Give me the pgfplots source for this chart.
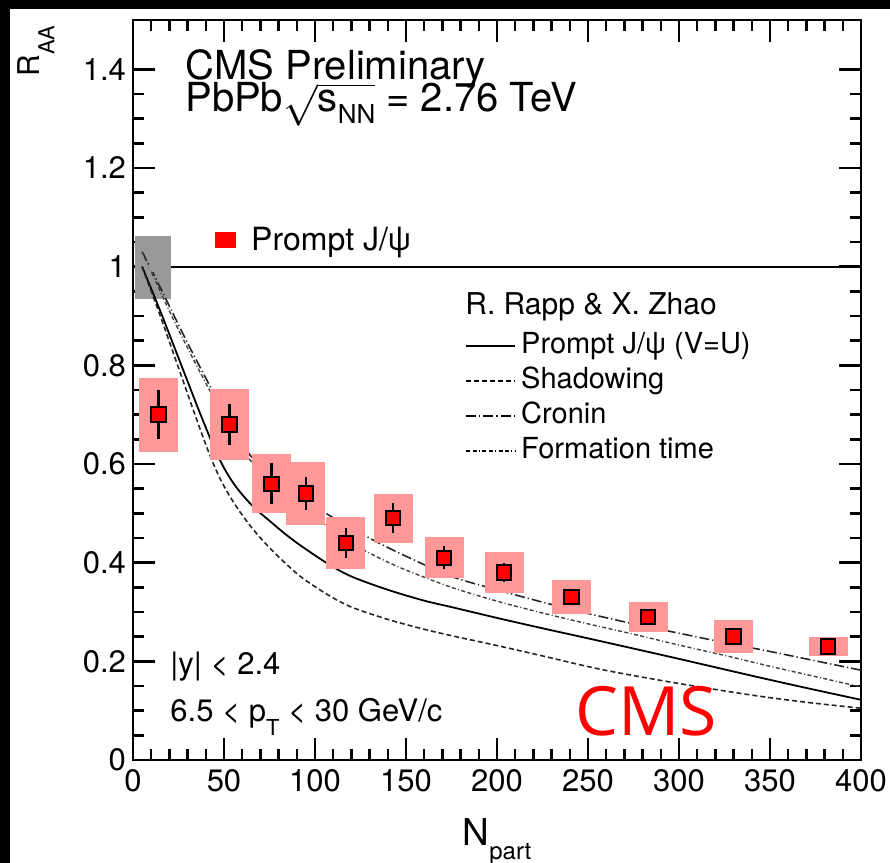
\documentclass[border=0pt]{standalone}
\usepackage{pgfplots}
\pgfplotsset{compat=1.18}
\usepackage{amsmath}
\usepackage{fontspec}
\setmainfont{TeX Gyre Heros}
\newfontfamily\cmsfont{Open Sans}
\definecolor{systred}{RGB}{255,153,153}
\definecolor{globgray}{RGB}{153,153,153}
\definecolor{mred}{RGB}{255,0,0}

\pgfplotstableread{
x    y     stat   syst
14   0.70  0.050  0.075
53   0.68  0.042  0.072
76   0.56  0.042  0.060
95   0.54  0.034  0.064
117  0.44  0.030  0.052
143  0.49  0.030  0.050
171  0.41  0.023  0.042
204  0.38  0.020  0.042
241  0.33  0.015  0.034
283  0.29  0.012  0.031
330  0.25  0.012  0.033
382  0.23  0.010  0.020
}\datatable

\begin{document}
\begin{tikzpicture}
\useasboundingbox (-66.5pt,-51.5pt) rectangle (378.5pt,380pt);
\fill[black] (-66.5pt,-51.5pt) rectangle (378.5pt,380pt);
\fill[white] (-61.5pt,-51.5pt) rectangle (378.5pt,375.5pt);
\begin{axis}[
  at={(0pt,0pt)}, anchor=south west,
  scale only axis, width=364pt, height=370pt,
  xmin=0, xmax=400, ymin=0, ymax=1.5,
  xtick={0,50,100,150,200,250,300,350,400},
  xticklabels={0,50,100,150,200,250,300,350,400},
  ytick={0,0.2,0.4,0.6,0.8,1,1.2,1.4},
  yticklabels={0,0.2,0.4,0.6,0.8,1,1.2,1.4},
  minor x tick num=4, minor y tick num=3,
  major tick length=11pt, minor tick length=5.5pt,
  tick style={black, line width=1.2pt},
  axis line style={line width=1.2pt},
  tick label style={font=\fontsize{15.5}{18}\selectfont},
  xticklabel style={yshift=-1pt},
  /pgf/number format/assume math mode=true,
  legend style={at={(rel axis cs:0.1126,0.7027)}, anchor=west, draw=none, fill=none,
    font=\fontsize{16}{18}\selectfont, inner sep=0pt, nodes={inner sep=0pt}, column sep=7.5pt},
]
% unity line
\addplot[black, line width=1pt, forget plot] coordinates {(0,1) (400,1)};
% global uncertainty box
\addplot[globgray, only marks, mark=none, forget plot,
  error bars/.cd, y dir=both, y explicit, error mark=none,
  error bar style={line width=18pt, solid}]
  coordinates {(11,0.998) +- (0,0.064)};
% theory curves
% Prompt J/psi (V=U)
\addplot[black, line width=0.9pt, smooth, forget plot] coordinates {
(5,1.0)(15,0.91)(25,0.815)(35,0.72)(40,0.674)(45,0.63)(50,0.592)(55,0.562)(60,0.538)(67,0.51)(75,0.485)(83,0.46)(92,0.435)(107,0.398)(120,0.372)(140,0.345)(160,0.323)(175,0.31)(200,0.288)(225,0.267)(258,0.24)(300,0.205)(341,0.17)(370,0.146)(400,0.122)};
% Shadowing
\addplot[black!85, line width=0.8pt, smooth, dash pattern=on 2.5pt off 1.5pt, forget plot] coordinates {
(5,1.0)(15,0.9)(25,0.795)(35,0.69)(42,0.62)(47,0.577)(52,0.542)(58,0.507)(65,0.472)(72,0.442)(80,0.412)(92,0.372)(107,0.335)(120,0.31)(140,0.285)(160,0.265)(175,0.252)(200,0.232)(225,0.211)(258,0.183)(300,0.155)(341,0.131)(370,0.117)(400,0.105)};
% Cronin
\addplot[black!85, line width=0.8pt, smooth, dash pattern=on 5pt off 1.5pt on 0.6pt off 1.5pt, forget plot] coordinates {
(5,1.03)(10,0.995)(20,0.92)(30,0.845)(42,0.76)(50,0.705)(58,0.652)(65,0.615)(75,0.58)(85,0.552)(95,0.527)(106,0.50)(120,0.47)(135,0.44)(150,0.413)(175,0.372)(200,0.345)(225,0.32)(250,0.297)(275,0.276)(300,0.257)(325,0.238)(350,0.22)(375,0.201)(400,0.182)};
% Formation time
\addplot[black!75, line width=0.7pt, smooth, dash pattern=on 2pt off 1.2pt on 2pt off 1.2pt on 0.5pt off 1.2pt, forget plot] coordinates {
(5,1.03)(10,0.99)(20,0.91)(30,0.835)(42,0.75)(50,0.695)(58,0.643)(65,0.605)(75,0.567)(85,0.535)(95,0.505)(106,0.476)(120,0.44)(135,0.41)(150,0.385)(175,0.35)(200,0.322)(225,0.298)(250,0.276)(275,0.255)(300,0.233)(325,0.212)(350,0.19)(375,0.169)(400,0.148)};
% systematic boxes
\addplot[systred, only marks, mark=none, forget plot,
  error bars/.cd, y dir=both, y explicit, error mark=none,
  error bar style={line width=19.5pt, solid}]
  table[x=x, y=y, y error=syst] {\datatable};
% statistical errors
\addplot[black, only marks, mark=none, forget plot,
  error bars/.cd, y dir=both, y explicit, error mark=none,
  error bar style={line width=1.2pt, solid}]
  table[x=x, y=y, y error=stat] {\datatable};
% data markers
\addplot[only marks, mark=square*, mark size=3.6pt,
  mark options={fill=mred, draw=black, line width=1pt},
  legend image code/.code={\fill[mred] (0pt,-3.75pt) rectangle (10pt,3.75pt);}]
  table[x=x, y=y] {\datatable};
\addlegendentry{Prompt J/ψ}
\end{axis}

\begin{axis}[
  at={(0pt,0pt)}, anchor=south west,
  scale only axis, width=364pt, height=370pt,
  xmin=0, xmax=400, ymin=0, ymax=1.5, hide axis,
  legend cell align=left,
  legend style={at={(rel axis cs:0.456,0.578)}, anchor=north west, draw=none, fill=none,
    font=\fontsize{14.5}{17}\selectfont, inner sep=0pt, row sep=4pt, column sep=2.5pt,
    nodes={inner sep=0pt, text height=10.5pt, text depth=3pt}},
  legend image code/.code={\draw[#1] (0pt,0pt) -- (24.5pt,0pt);},
]
\addlegendimage{black, line width=0.9pt}
\addlegendentry{Prompt J/ψ (V=U)}
\addlegendimage{black, line width=0.8pt, dash pattern=on 2.5pt off 1.5pt}
\addlegendentry{Shadowing}
\addlegendimage{black, line width=0.8pt, dash pattern=on 5pt off 1.5pt on 0.6pt off 1.5pt}
\addlegendentry{Cronin}
\addlegendimage{black, line width=0.7pt, dash pattern=on 2pt off 1.2pt on 2pt off 1.2pt on 0.5pt off 1.2pt}
\addlegendentry{Formation time}
\end{axis}

% texts
\node[anchor=base west, inner sep=0pt, font=\fontsize{15}{17}\selectfont] at (166pt,222.5pt) {R. Rapp \& X. Zhao};
\node[anchor=base west, inner sep=0pt, font=\fontsize{20}{22}\selectfont] at (26pt,340pt) {CMS Preliminary};
\node[anchor=base west, inner sep=0pt, font=\fontsize{20}{22}\selectfont] at (26pt,324pt)
  {PbPb$\sqrt{\mbox{s\raisebox{-0.3em}{\fontsize{13}{13}\selectfont NN}}}$ = 2.76 TeV};
\node[anchor=base west, inner sep=0pt, font=\fontsize{15.5}{18}\selectfont] at (18.5pt,42.5pt) {|y| < 2.4};
\node[anchor=base west, inner sep=0pt, font=\fontsize{15.5}{18}\selectfont] at (18.5pt,19pt)
  {6.5 < p\raisebox{-0.45em}{\fontsize{11}{11}\selectfont T} < 30 GeV/c};
\node[anchor=base west, inner sep=0pt, text=mred, font=\cmsfont\fontsize{34}{36}\selectfont] at (221pt,12pt) {CMS};
\node[anchor=north west, inner sep=0pt, font=\fontsize{15}{17}\selectfont] at (-58pt,367.5pt)
  {\rotatebox{90}{R\raisebox{-7.5pt}{\fontsize{11}{11}\selectfont AA}}};
\node[anchor=base, inner sep=0pt, font=\fontsize{18.5}{20}\selectfont] at (182pt,-42.5pt)
  {N\raisebox{-0.4em}{\fontsize{12}{12}\selectfont part}};
\end{tikzpicture}
\end{document}
